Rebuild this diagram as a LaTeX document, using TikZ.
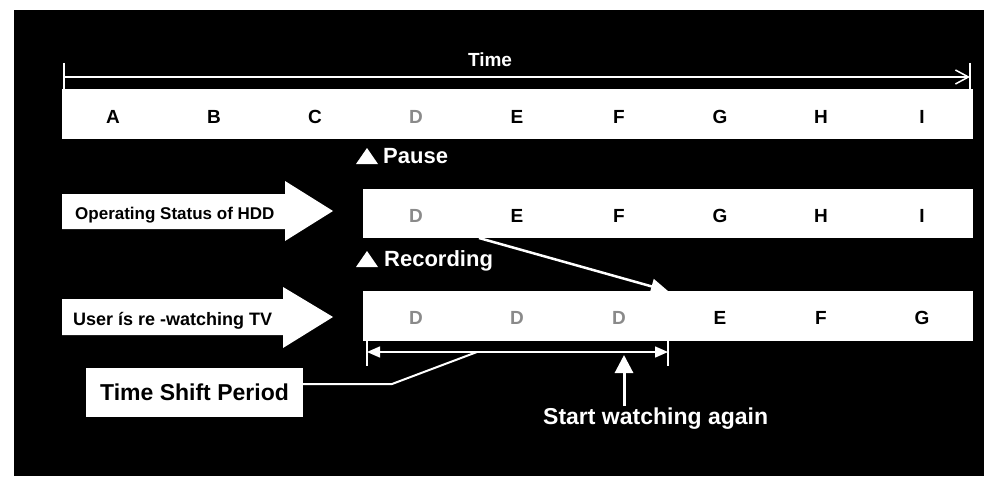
\documentclass[tikz,border=0pt]{standalone}
\usepackage{fontspec}
\setmainfont{Liberation Sans}
\usetikzlibrary{arrows.meta}
\definecolor{dgray}{HTML}{8A8A8A}
\newcommand\myfs[1]{\fontsize{#1}{#1}\selectfont\bfseries}
\begin{document}
\begin{tikzpicture}[x=1pt,y=-1pt,
  bar/.style={fill=white, draw=none, anchor=north west, inner sep=0pt, minimum height=50pt},
  cell/.style={font=\myfs{19}, anchor=base, inner sep=0pt, text=black},
  dcell/.style={cell, text=dgray},
  wlabel/.style={font=\myfs{22}, text=white, anchor=base west, inner sep=0pt},
  arrlabel/.style={font=\myfs{17}, text=black, anchor=base west, inner sep=0pt},
  wline/.style={draw=white, line width=1.5pt},
  tick/.style={draw=white, line width=1.5pt}
]
\useasboundingbox (0,0) rectangle (984,476);
\fill[white] (0,0) rectangle (984,476);
\fill[black] (14,10) rectangle (984,476);

% time axis
\coordinate (t0) at (64,77);
\coordinate (t1) at (970,77);
\draw[tick] (64,63) -- (64,89);
\draw[tick] (970,63) -- (970,90);
\draw[wline, -{Straight Barb[length=13pt,width=14pt]}] (t0) -- (t1);
\node[font=\myfs{19}, text=white, anchor=base, inner sep=0pt] (time) at (490,67) {Time};

% row 1
\node[bar, minimum width=911pt] (bar1) at (62,89) {};
\foreach \x/\l [count=\i] in {113/A,214/B,315/C,517/E,619/F,720/G,821/H,922/I}
  \node[cell] (r1c\i) at (\x,123) {\l};
\node[dcell] (r1d) at (416,123) {D};

% pause
\fill[white] (356,164) -- (378,164) -- (367,148) -- cycle;
\node[wlabel] (pause) at (383,163) {Pause};

% row 2
\fill[white] (62,194) -- (285,194) -- (285,181) -- (333,211) -- (285,241) -- (285,229) -- (62,229) -- cycle;
\node[arrlabel] (hdd) at (75,219) {Operating Status of HDD};
\node[bar, minimum width=610pt, minimum height=49pt] (bar2) at (363,189) {};
\node[dcell] (r2d) at (416,222) {D};
\foreach \x/\l [count=\i] in {517/E,619/F,720/G,821/H,922/I}
  \node[cell] (r2c\i) at (\x,222) {\l};

% recording
\fill[white] (356,267) -- (378,267) -- (367,251) -- cycle;
\node[wlabel] (rec) at (384,266) {Recording};

% row 3
\fill[white] (62,299) -- (283,299) -- (283,287) -- (333,317) -- (283,348) -- (283,335) -- (62,335) -- cycle;
\node[arrlabel, font=\myfs{18}] (user) at (73,325) {User ís re -watching TV};
\node[bar, minimum width=610pt] (bar3) at (363,291) {};
\foreach \x [count=\i] in {416,517,619}
  \node[dcell] (r3d\i) at (\x,324) {D};
\foreach \x/\l [count=\i] in {720/E,821/F,922/G}
  \node[cell] (r3c\i) at (\x,324) {\l};

% diagonal arrow
\coordinate (recsrc) at (479,238);
\coordinate (rectgt) at (668,291);
\draw[draw=white, line width=2.5pt, -{Triangle[length=17pt,width=15pt]}] (recsrc) -- (rectgt);

% time shift dimension
\coordinate (ts0) at (367,352);
\coordinate (ts1) at (668,352);
\draw[tick] (367,341) -- (367,366);
\draw[tick] (668,340) -- (668,366);
\draw[wline, {Triangle[length=13pt,width=11pt]}-{Triangle[length=13pt,width=11pt]}] (ts0) -- (ts1);

% time shift box
\node[fill=white, minimum width=217pt, minimum height=49pt, inner sep=0pt, font=\myfs{23}] (tsp) at (194.5,392.5) {Time Shift Period};
\coordinate (bend) at (392,384);
\coordinate (tsmid) at (477,352);
\draw[draw=white, line width=2pt] ([yshift=8.5pt]tsp.east) -- (bend) -- (tsmid);

% start watching again
\node[font=\myfs{23}, text=white, anchor=base west, inner sep=0pt] (swa) at (543,424) {Start watching again};
\coordinate (swtip) at (624,355);
\draw[draw=white, line width=3pt, -{Triangle[length=18pt,width=18pt]}] (624,406) -- (swtip);
\end{tikzpicture}
\end{document}
